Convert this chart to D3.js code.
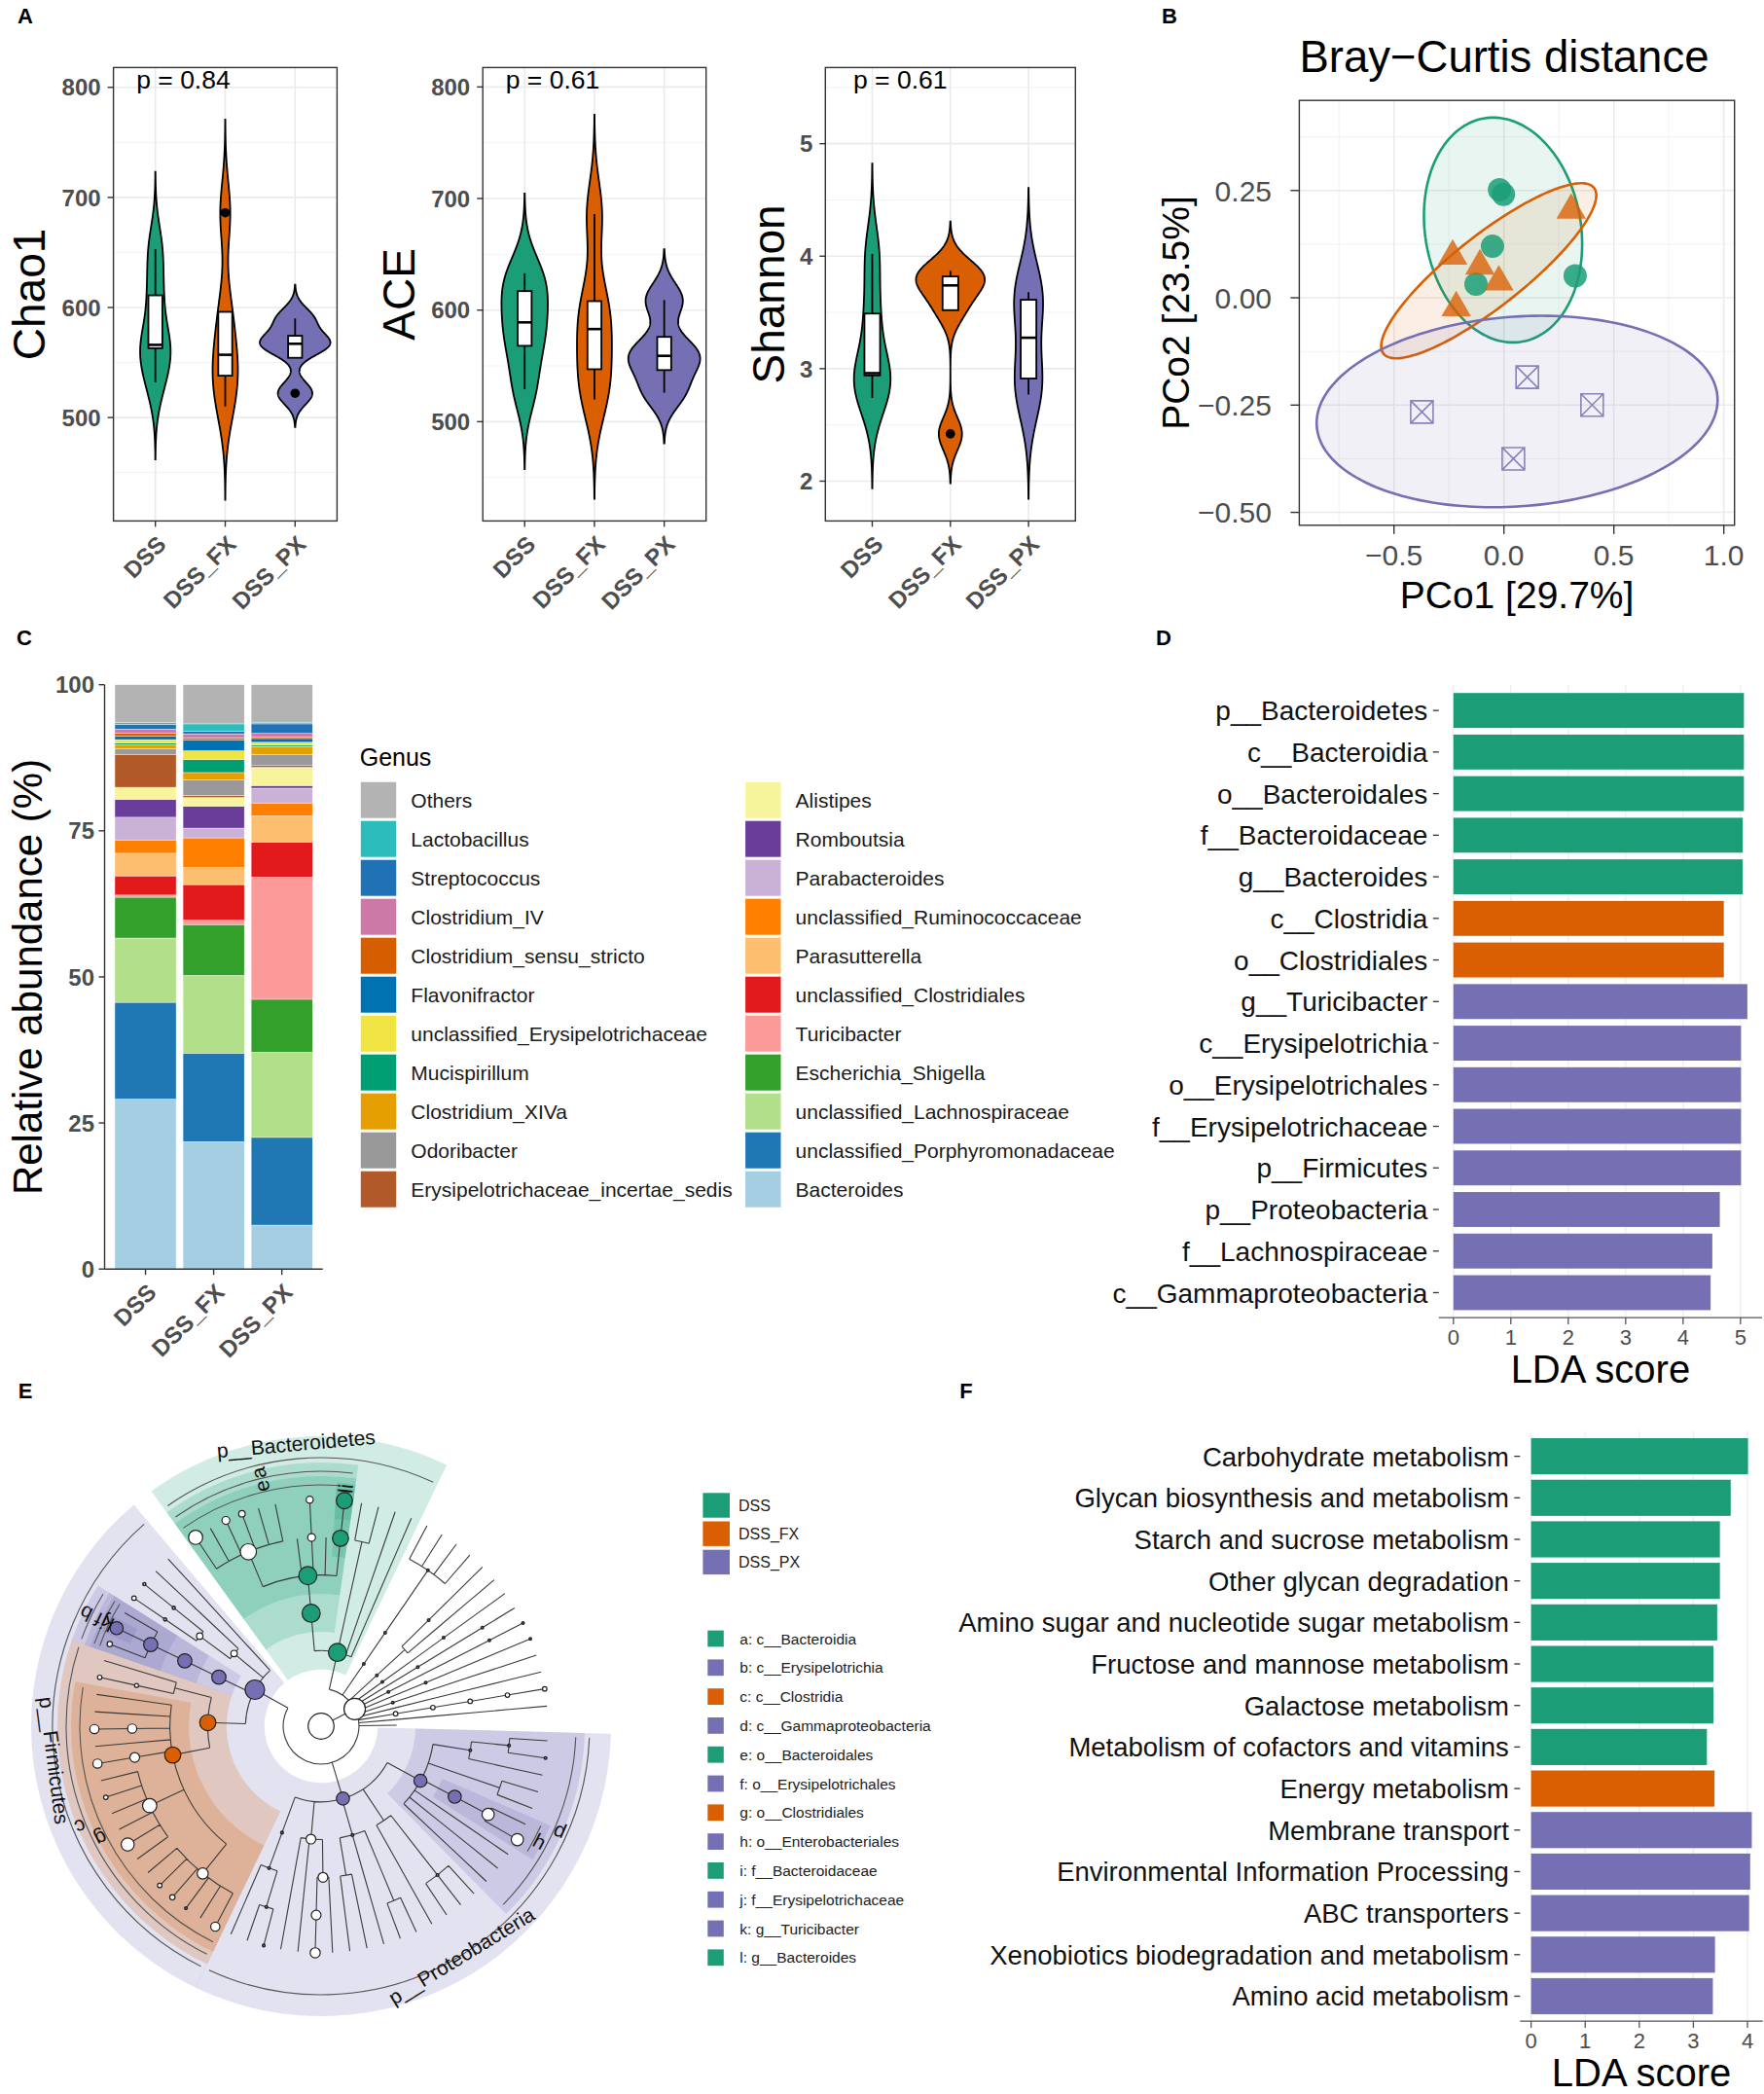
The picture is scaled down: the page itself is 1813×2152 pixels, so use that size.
<!DOCTYPE html>
<html>
<head>
<meta charset="utf-8">
<script src="https://cdn.jsdelivr.net/npm/d3@7"></script>
<style>
    body { margin: 0; background: #fff; }
    svg { display: block; font-family: 'Liberation Sans', Arial, Helvetica, sans-serif; }
</style>
</head>
<body>
<svg id="figure" width="1813" height="2152"></svg>
<script>
const GROUPS = ['DSS', 'DSS_FX', 'DSS_PX']
const GROUP_COLORS = ['#1b9e77', '#d95f02', '#7570b3']

// A: alpha diversity per mouse (read back from the box / violin plots)
const chao1 = [[532, 563, 566, 611, 653], [510, 538, 557, 596, 686], [522, 565, 569, 590]]
const ace = [[529, 568, 589, 617, 633], [520, 547, 583, 608, 686], [526, 553, 565, 609]]
const shannon = [[2.74, 2.94, 2.96, 3.49, 4.02], [2.42, 3.52, 3.74, 3.82, 3.87], [2.77, 2.96, 3.59, 3.68]]
const alphaPValues = ['0.84', '0.61', '0.61']

// B: PCoA on Bray-Curtis
const pcoaX = [[-0.020, -0.002, -0.052, -0.127, 0.324], [0.306, -0.233, -0.109, -0.023, -0.217], [0.106, -0.373, 0.401, 0.043]]
const pcoaY = [[0.252, 0.241, 0.120, 0.032, 0.051], [0.204, 0.097, 0.074, 0.037, -0.023], [-0.185, -0.266, -0.250, -0.375]]
// stat_ellipse outlines: centre plus two conjugate semi-axes, in PCo units
const ellipseCentre = [[-0.004, 0.158], [-0.069, 0.063], [0.060, -0.265]]
const ellipseAxisA = [[-0.045, 0.262], [0.479, 0.193], [0.905, 0.0]]
const ellipseAxisB = [[0.357, 0.0], [0.099, -0.066], [0.110, 0.223]]

// C: genus relative abundance (%), legend order (top of the stack first)
const genera = ['Others', 'Lactobacillus', 'Streptococcus', 'Clostridium_IV', 'Clostridium_sensu_stricto',
    'Flavonifractor', 'unclassified_Erysipelotrichaceae', 'Mucispirillum', 'Clostridium_XIVa', 'Odoribacter',
    'Erysipelotrichaceae_incertae_sedis', 'Alistipes', 'Romboutsia', 'Parabacteroides', 'unclassified_Ruminococcaceae',
    'Parasutterella', 'unclassified_Clostridiales', 'Turicibacter', 'Escherichia_Shigella', 'unclassified_Lachnospiraceae',
    'unclassified_Porphyromonadaceae', 'Bacteroides']
const genusColors = ['#b3b3b3', '#2bbcbc', '#2171b5', '#cc79a7', '#d55e00', '#0072b2', '#f0e442', '#009e73', '#e69f00',
    '#999999', '#b15928', '#f7f59b', '#6a3d9a', '#cab2d6', '#ff7f00', '#fdbf6f', '#e31a1c', '#fb9a99', '#33a02c',
    '#b2df8a', '#1f78b4', '#a6cee3']
const abundanceDSS = [6.5, 0.3, 0.8, 0.7, 0.5, 0.6, 0.6, 0.27, 0.66, 0.97, 5.65, 2.08, 3.05, 3.87, 2.3, 3.86, 3.29, 0.36, 6.99, 11.0, 16.57, 29.08]
const abundanceFX = [6.7, 1.3, 0.4, 0.7, 0.35, 1.85, 1.5, 2.23, 1.27, 2.65, 0.35, 1.5, 3.74, 1.66, 5.1, 2.9, 6.1, 0.74, 8.7, 13.3, 15.16, 21.8]
const abundancePX = [6.4, 0.3, 1.63, 0.57, 0.3, 0.65, 0.5, 0.22, 1.33, 1.94, 0.29, 3.12, 0.45, 2.52, 2.24, 4.46, 6.01, 20.9, 9.07, 14.57, 15.01, 7.52]

// D: LEfSe taxa
const ldaTaxa = ['p__Bacteroidetes', 'c__Bacteroidia', 'o__Bacteroidales', 'f__Bacteroidaceae', 'g__Bacteroides',
    'c__Clostridia', 'o__Clostridiales', 'g__Turicibacter', 'c__Erysipelotrichia', 'o__Erysipelotrichales',
    'f__Erysipelotrichaceae', 'p__Firmicutes', 'p__Proteobacteria', 'f__Lachnospiraceae', 'c__Gammaproteobacteria']
const ldaTaxaScore = [5.06, 5.06, 5.06, 5.04, 5.04, 4.71, 4.71, 5.12, 5.01, 5.01, 5.01, 5.01, 4.64, 4.51, 4.48]
const ldaTaxaGroup = [0, 0, 0, 0, 0, 1, 1, 2, 2, 2, 2, 2, 2, 2, 2]

// F: LEfSe on predicted pathways
const ldaPathways = ['Carbohydrate metabolism', 'Glycan biosynthesis and metabolism', 'Starch and sucrose metabolism',
    'Other glycan degradation', 'Amino sugar and nucleotide sugar metabolism', 'Fructose and mannose metabolism',
    'Galactose metabolism', 'Metabolism of cofactors and vitamins', 'Energy metabolism', 'Membrane transport',
    'Environmental Information Processing', 'ABC transporters', 'Xenobiotics biodegradation and metabolism',
    'Amino acid metabolism']
const ldaPathwayScore = [4.01, 3.69, 3.49, 3.49, 3.44, 3.37, 3.37, 3.25, 3.39, 4.08, 4.05, 4.03, 3.40, 3.36]
const ldaPathwayGroup = [0, 0, 0, 0, 0, 0, 0, 0, 1, 2, 2, 2, 2, 2]

// E: cladogram taxonomy [taxon, parent, relative abundance %] (0 = no node drawn)
const cladeTaxa = [
    ['root', null, 100], ['k__Bacteria', 'root', 11.6],
    ['p__Bacteroidetes', 'k__Bacteria', 2.37], ['c__Bacteroidia', 'p__Bacteroidetes', 2.37], ['o__Bacteroidales', 'c__Bacteroidia', 2.37],
    ['f__Porphyromonadaceae', 'o__Bacteroidales', 0.93], ['g__unclassified_Porphyromonadaceae', 'f__Porphyromonadaceae', 0.36],
    ['g__Barnesiella', 'f__Porphyromonadaceae', 0], ['g__Parabacteroides', 'f__Porphyromonadaceae', 0.017],
    ['g__Odoribacter', 'f__Porphyromonadaceae', 0.009], ['g__Coprobacter', 'f__Porphyromonadaceae', 0],
    ['g__Tannerella', 'f__Porphyromonadaceae', 0], ['f__Prevotellaceae', 'o__Bacteroidales', 0],
    ['f__Rikenellaceae', 'o__Bacteroidales', 0.017], ['g__Alistipes', 'f__Rikenellaceae', 0.012],
    ['f__S24_7', 'o__Bacteroidales', 0], ['f__Bacteroidaceae', 'o__Bacteroidales', 0.93], ['g__Bacteroides', 'f__Bacteroidaceae', 0.93],
    ['c__Flavobacteriia', 'p__Bacteroidetes', 0], ['o__Flavobacteriales', 'c__Flavobacteriia', 0],
    ['f__Flavobacteriaceae', 'o__Flavobacteriales', 0], ['g__Flavobacterium', 'f__Flavobacteriaceae', 0],
    ['g__Chryseobacterium', 'f__Flavobacteriaceae', 0], ['c__Sphingobacteriia', 'p__Bacteroidetes', 0],
    ['o__Sphingobacteriales', 'c__Sphingobacteriia', 0], ['f__Sphingobacteriaceae', 'o__Sphingobacteriales', 0],
    ['g__Pedobacter', 'f__Sphingobacteriaceae', 0], ['c__Cytophagia', 'p__Bacteroidetes', 0],
    ['o__Cytophagales', 'c__Cytophagia', 0], ['f__Cytophagaceae', 'o__Cytophagales', 0], ['g__Hymenobacter', 'f__Cytophagaceae', 0],

    ['p__Actinobacteria', 'k__Bacteria', 0.0012], ['c__Actinobacteria', 'p__Actinobacteria', 0.0012],
    ['o__Coriobacteriales', 'c__Actinobacteria', 0], ['f__Coriobacteriaceae', 'o__Coriobacteriales', 0.0012],
    ['g__Enterorhabdus', 'f__Coriobacteriaceae', 0], ['g__Olsenella', 'f__Coriobacteriaceae', 0],
    ['g__Adlercreutzia', 'f__Coriobacteriaceae', 0], ['g__Gordonibacter', 'f__Coriobacteriaceae', 0],
    ['p__Tenericutes', 'k__Bacteria', 0.0012], ['c__Mollicutes', 'p__Tenericutes', 0],
    ['o__Anaeroplasmatales', 'c__Mollicutes', 0.0012], ['f__Anaeroplasmataceae', 'o__Anaeroplasmatales', 0],
    ['g__Anaeroplasma', 'f__Anaeroplasmataceae', 0], ['o__Mycoplasmatales', 'c__Mollicutes', 0],
    ['f__Mycoplasmataceae', 'o__Mycoplasmatales', 0], ['g__Mycoplasma', 'f__Mycoplasmataceae', 0],
    ['p__Verrucomicrobia', 'k__Bacteria', 0.0012], ['c__Verrucomicrobiae', 'p__Verrucomicrobia', 0],
    ['o__Verrucomicrobiales', 'c__Verrucomicrobiae', 0.0012], ['f__Verrucomicrobiaceae', 'o__Verrucomicrobiales', 0],
    ['g__Akkermansia', 'f__Verrucomicrobiaceae', 0],
    ['p__Cyanobacteria', 'k__Bacteria', 0], ['c__Chloroplast', 'p__Cyanobacteria', 0.0012],
    ['o__Streptophyta', 'c__Chloroplast', 0], ['f__Streptophyta', 'o__Streptophyta', 0.0012], ['g__Streptophyta', 'f__Streptophyta', 0],
    ['p__Saccharibacteria', 'k__Bacteria', 0.0012], ['c__Saccharibacteria', 'p__Saccharibacteria', 0],
    ['o__Saccharibacteria', 'c__Saccharibacteria', 0], ['f__Saccharibacteria', 'o__Saccharibacteria', 0.0012],
    ['g__Saccharibacteria_genera_incertae_sedis', 'f__Saccharibacteria', 0.0012],
    ['p__Fusobacteria', 'k__Bacteria', 0], ['c__Fusobacteriia', 'p__Fusobacteria', 0.0012],
    ['o__Fusobacteriales', 'c__Fusobacteriia', 0], ['f__Fusobacteriaceae', 'o__Fusobacteriales', 0],
    ['g__Fusobacterium', 'f__Fusobacteriaceae', 0.0012],
    ['p__Spirochaetes', 'k__Bacteria', 0.0012], ['c__Spirochaetia', 'p__Spirochaetes', 0],
    ['o__Spirochaetales', 'c__Spirochaetia', 0], ['f__Spirochaetaceae', 'o__Spirochaetales', 0], ['g__Treponema', 'f__Spirochaetaceae', 0],
    ['p__Acidobacteria', 'k__Bacteria', 0], ['c__Acidobacteria_Gp6', 'p__Acidobacteria', 0],
    ['o__Gp6', 'c__Acidobacteria_Gp6', 0], ['f__Gp6', 'o__Gp6', 0], ['g__Gp6', 'f__Gp6', 0],
    ['p__Deferribacteres', 'k__Bacteria', 0.0034], ['c__Deferribacteres', 'p__Deferribacteres', 0.0034],
    ['o__Deferribacterales', 'c__Deferribacteres', 0.0034], ['f__Deferribacteraceae', 'o__Deferribacterales', 0.0034],
    ['g__Mucispirillum', 'f__Deferribacteraceae', 0.0034],
    ['p__Chloroflexi', 'k__Bacteria', 0], ['c__Anaerolineae', 'p__Chloroflexi', 0],
    ['o__Anaerolineales', 'c__Anaerolineae', 0], ['f__Anaerolineaceae', 'o__Anaerolineales', 0], ['g__Longilinea', 'f__Anaerolineaceae', 0],
    ['p__Planctomycetes', 'k__Bacteria', 0],

    ['p__Proteobacteria', 'k__Bacteria', 0.21], ['c__Gammaproteobacteria', 'p__Proteobacteria', 0.21],
    ['o__Pseudomonadales', 'c__Gammaproteobacteria', 0.0013], ['f__Moraxellaceae', 'o__Pseudomonadales', 0.0013],
    ['g__Acinetobacter', 'f__Moraxellaceae', 0], ['g__Psychrobacter', 'f__Moraxellaceae', 0.0013],
    ['f__Pseudomonadaceae', 'o__Pseudomonadales', 0], ['g__Pseudomonas', 'f__Pseudomonadaceae', 0],
    ['o__Pasteurellales', 'c__Gammaproteobacteria', 0], ['f__Pasteurellaceae', 'o__Pasteurellales', 0],
    ['g__Haemophilus', 'f__Pasteurellaceae', 0], ['g__Aggregatibacter', 'f__Pasteurellaceae', 0],
    ['o__Enterobacteriales', 'c__Gammaproteobacteria', 0.21], ['f__Enterobacteriaceae', 'o__Enterobacteriales', 0.14],
    ['g__unclassified_Enterobacteriaceae', 'f__Enterobacteriaceae', 0], ['g__Escherichia_Shigella', 'f__Enterobacteriaceae', 0.14],
    ['o__Xanthomonadales', 'c__Gammaproteobacteria', 0], ['f__Xanthomonadaceae', 'o__Xanthomonadales', 0],
    ['g__Stenotrophomonas', 'f__Xanthomonadaceae', 0], ['o__Aeromonadales', 'c__Gammaproteobacteria', 0],
    ['f__Succinivibrionaceae', 'o__Aeromonadales', 0], ['g__Anaerobiospirillum', 'f__Succinivibrionaceae', 0],
    ['o__Vibrionales', 'c__Gammaproteobacteria', 0], ['f__Vibrionaceae', 'o__Vibrionales', 0], ['g__Vibrio', 'f__Vibrionaceae', 0],
    ['c__Deltaproteobacteria', 'p__Proteobacteria', 0], ['o__Desulfovibrionales', 'c__Deltaproteobacteria', 0],
    ['f__Desulfovibrionaceae', 'o__Desulfovibrionales', 0.0013], ['g__Desulfovibrio', 'f__Desulfovibrionaceae', 0],
    ['g__Bilophila', 'f__Desulfovibrionaceae', 0], ['g__Mailhella', 'f__Desulfovibrionaceae', 0],
    ['o__Desulfuromonadales', 'c__Deltaproteobacteria', 0], ['f__Geobacteraceae', 'o__Desulfuromonadales', 0],
    ['g__Geobacter', 'f__Geobacteraceae', 0],
    ['c__Alphaproteobacteria', 'p__Proteobacteria', 0.0013], ['o__Rhodospirillales', 'c__Alphaproteobacteria', 0],
    ['f__Rhodospirillaceae', 'o__Rhodospirillales', 0], ['g__Thalassospira', 'f__Rhodospirillaceae', 0],
    ['g__Azospirillum', 'f__Rhodospirillaceae', 0], ['o__Sphingomonadales', 'c__Alphaproteobacteria', 0],
    ['f__Sphingomonadaceae', 'o__Sphingomonadales', 0], ['g__Sphingomonas', 'f__Sphingomonadaceae', 0],
    ['o__Rhizobiales', 'c__Alphaproteobacteria', 0], ['f__Bradyrhizobiaceae', 'o__Rhizobiales', 0],
    ['g__Bradyrhizobium', 'f__Bradyrhizobiaceae', 0], ['f__Methylobacteriaceae', 'o__Rhizobiales', 0],
    ['g__Methylobacterium', 'f__Methylobacteriaceae', 0],
    ['c__Betaproteobacteria', 'p__Proteobacteria', 0.042], ['o__Burkholderiales', 'c__Betaproteobacteria', 0.042],
    ['f__Alcaligenaceae', 'o__Burkholderiales', 0], ['g__Alcaligenes', 'f__Alcaligenaceae', 0],
    ['f__Sutterellaceae', 'o__Burkholderiales', 0.042], ['g__Parasutterella', 'f__Sutterellaceae', 0.05],
    ['o__Neisseriales', 'c__Betaproteobacteria', 0], ['f__Neisseriaceae', 'o__Neisseriales', 0], ['g__Neisseria', 'f__Neisseriaceae', 0],
    ['o__Rhodocyclales', 'c__Betaproteobacteria', 0], ['f__Rhodocyclaceae', 'o__Rhodocyclales', 0], ['g__Thauera', 'f__Rhodocyclaceae', 0],
    ['c__Epsilonproteobacteria', 'p__Proteobacteria', 0.0013], ['o__Campylobacterales', 'c__Epsilonproteobacteria', 0.0013],
    ['f__Helicobacteraceae', 'o__Campylobacterales', 0.0013], ['g__Helicobacter', 'f__Helicobacteraceae', 0.0013],
    ['g__Wolinella', 'f__Helicobacteraceae', 0], ['f__Campylobacteraceae', 'o__Campylobacterales', 0],
    ['g__Campylobacter', 'f__Campylobacteraceae', 0],

    ['p__Firmicutes', 'k__Bacteria', 4.56], ['c__Clostridia', 'p__Firmicutes', 0.93], ['o__Clostridiales', 'c__Clostridia', 0.93],
    ['f__Ruminococcaceae', 'o__Clostridiales', 0.081], ['g__Oscillibacter', 'f__Ruminococcaceae', 0.032],
    ['g__Anaerotruncus', 'f__Ruminococcaceae', 0], ['g__Butyricicoccus', 'f__Ruminococcaceae', 0.0013],
    ['g__Ruminococcus', 'f__Ruminococcaceae', 0.0049], ['g__Flavonifractor', 'f__Ruminococcaceae', 0.0034],
    ['g__Intestinimonas', 'f__Ruminococcaceae', 0],
    ['f__Lachnospiraceae', 'o__Clostridiales', 0.36], ['g__Roseburia', 'f__Lachnospiraceae', 0],
    ['g__unclassified_Lachnospiraceae', 'f__Lachnospiraceae', 0.21], ['g__Clostridium_XIVa', 'f__Lachnospiraceae', 0],
    ['g__Blautia', 'f__Lachnospiraceae', 0], ['g__Dorea', 'f__Lachnospiraceae', 0.0034], ['g__Coprococcus', 'f__Lachnospiraceae', 0],
    ['f__Peptostreptococcaceae', 'o__Clostridiales', 0.042], ['g__Romboutsia', 'f__Peptostreptococcaceae', 0.032],
    ['f__Clostridiaceae_1', 'o__Clostridiales', 0], ['g__Clostridium_sensu_stricto', 'f__Clostridiaceae_1', 0],
    ['f__unclassified_Clostridiales', 'o__Clostridiales', 0.032], ['g__unclassified_Clostridiales', 'f__unclassified_Clostridiales', 0.032],
    ['f__Eubacteriaceae', 'o__Clostridiales', 0], ['g__Eubacterium', 'f__Eubacteriaceae', 0],
    ['f__Clostridiales_Incertae_Sedis_XIII', 'o__Clostridiales', 0], ['g__Anaerovorax', 'f__Clostridiales_Incertae_Sedis_XIII', 0],
    ['o__Thermoanaerobacterales', 'c__Clostridia', 0], ['f__Thermoanaerobacteraceae', 'o__Thermoanaerobacterales', 0.0026],
    ['g__Gelria', 'f__Thermoanaerobacteraceae', 0.0034], ['f__Syntrophomonadaceae', 'o__Thermoanaerobacterales', 0],
    ['g__Syntrophomonas', 'f__Syntrophomonadaceae', 0],
    ['c__Erysipelotrichia', 'p__Firmicutes', 0.36], ['o__Erysipelotrichales', 'c__Erysipelotrichia', 0.36],
    ['f__Erysipelotrichaceae', 'o__Erysipelotrichales', 0.36], ['g__unclassified_Erysipelotrichaceae', 'f__Erysipelotrichaceae', 0.0049],
    ['g__Turicibacter', 'f__Erysipelotrichaceae', 0.21], ['g__Erysipelotrichaceae_incertae_sedis', 'f__Erysipelotrichaceae', 0],
    ['c__Bacilli', 'p__Firmicutes', 0.0086], ['o__Lactobacillales', 'c__Bacilli', 0.0086],
    ['f__Lactobacillaceae', 'o__Lactobacillales', 0.0016], ['g__Lactobacillus', 'f__Lactobacillaceae', 0.0034],
    ['f__Streptococcaceae', 'o__Lactobacillales', 0.0016], ['g__Streptococcus', 'f__Streptococcaceae', 0.0016],
    ['o__Bacillales', 'c__Bacilli', 0], ['f__Staphylococcaceae', 'o__Bacillales', 0], ['g__Staphylococcus', 'f__Staphylococcaceae', 0],
    ['c__Negativicutes', 'p__Firmicutes', 0], ['o__Selenomonadales', 'c__Negativicutes', 0],
    ['f__Veillonellaceae', 'o__Selenomonadales', 0], ['g__Veillonella', 'f__Veillonellaceae', 0]
]
const cladePhyla = ['p__Bacteroidetes', 'p__Firmicutes', 'p__Proteobacteria']
const cladePhylaGroup = [0, 2, 2]
const cladeMarkers = ['c__Bacteroidia', 'c__Erysipelotrichia', 'c__Clostridia', 'c__Gammaproteobacteria', 'o__Bacteroidales',
    'o__Erysipelotrichales', 'o__Clostridiales', 'o__Enterobacteriales', 'f__Bacteroidaceae', 'f__Erysipelotrichaceae',
    'g__Turicibacter', 'g__Bacteroides']
const cladeMarkerGroup = [0, 2, 1, 2, 0, 2, 1, 2, 0, 2, 2, 0]
const cladeMarkerLetters = ['a', 'b', 'c', 'd', 'e', 'f', 'g', 'h', 'i', 'j', 'k', 'l']

const svg = d3.select('#figure')
const TICK_GREY = '#4d4d4d'
const AXIS_GREY = '#333333'

const letters = [['A', 26, 24], ['B', 1202, 24], ['C', 25, 663], ['D', 1196, 663], ['E', 26, 1437], ['F', 993, 1437]]
svg.append('g').selectAll('text').data(letters).join('text')
    .attr('x', d => d[1]).attr('y', d => d[2])
    .attr('text-anchor', 'middle').attr('font-weight', 'bold').attr('font-size', 22)
    .text(d => d[0])

// ---------------- A: violins ----------------
const A_TOP = 69.4, A_BOTTOM = 535.4
const alphaPanels = [
    {title: 'Chao1', values: chao1, left: 116.6, right: 346.4, domain: [406, 818], ticks: [500, 600, 700, 800], titleX: 46, maxWidth: 1.01},
    {title: 'ACE', values: ace, left: 496.2, right: 725.7, domain: [411, 817.4], ticks: [500, 600, 700, 800], titleX: 426, maxWidth: 1.03},
    {title: 'Shannon', values: shannon, left: 848.3, right: 1105.3, domain: [1.646, 5.677], ticks: [2, 3, 4, 5], titleX: 806, maxWidth: 0.88}
]

function violinStats(values) {
    const v = values.slice().sort(d3.ascending)
    const q1 = d3.quantileSorted(v, 0.25), med = d3.quantileSorted(v, 0.5), q3 = d3.quantileSorted(v, 0.75)
    const iqr = q3 - q1
    const bw = 0.9 * Math.min(d3.deviation(v), iqr / 1.34) * Math.pow(v.length, -0.2)
    const lo = v[0] - 3 * bw, hi = v[v.length - 1] + 3 * bw
    const density = d3.range(512).map(i => {
        const y = lo + (hi - lo) * i / 511
        return [y, d3.mean(v, s => Math.exp(-0.5 * ((y - s) / bw) ** 2)) / (bw * Math.sqrt(2 * Math.PI))]
    })
    const inside = v.filter(s => s >= q1 - 1.5 * iqr && s <= q3 + 1.5 * iqr)
    return {q1, med, q3, wLo: d3.min(inside), wHi: d3.max(inside), out: v.filter(s => !inside.includes(s)), density}
}

alphaPanels.forEach((p, pi) => {
    const g = svg.append('g')
    const x = d3.scalePoint().domain(GROUPS).range([p.left, p.right]).padding(0.6)
    const y = d3.scaleLinear().domain(p.domain).range([A_BOTTOM, A_TOP])
    const step = x.step()
    const tickStep = p.ticks[1] - p.ticks[0]
    const minor = d3.range(p.ticks[0] - tickStep / 2, p.domain[1], tickStep).filter(v => v > p.domain[0])

    g.selectAll('line.minor').data(minor).join('line')
        .attr('x1', p.left).attr('x2', p.right).attr('y1', d => y(d)).attr('y2', d => y(d))
        .attr('stroke', '#f2f2f2').attr('stroke-width', 1)
    g.selectAll('line.major').data(p.ticks).join('line')
        .attr('x1', p.left).attr('x2', p.right).attr('y1', d => y(d)).attr('y2', d => y(d))
        .attr('stroke', '#ebebeb').attr('stroke-width', 1.6)
    g.selectAll('line.vgrid').data(GROUPS).join('line')
        .attr('x1', d => x(d)).attr('x2', d => x(d)).attr('y1', A_TOP).attr('y2', A_BOTTOM)
        .attr('stroke', '#ebebeb').attr('stroke-width', 1.6)

    const stats = p.values.map(violinStats)
    const maxDens = d3.max(stats, s => d3.max(s.density, d => d[1]))
    const halfW = p.maxWidth * step / 2

    stats.forEach((s, gi) => {
        const xc = x(GROUPS[gi])
        const area = d3.area()
            .x0(d => xc - halfW * d[1] / maxDens)
            .x1(d => xc + halfW * d[1] / maxDens)
            .y(d => y(d[0]))
        g.append('path').attr('d', area(s.density))
            .attr('fill', GROUP_COLORS[gi]).attr('stroke', '#000').attr('stroke-width', 1.8)

        const bw = 0.2 * step
        g.append('line').attr('x1', xc).attr('x2', xc).attr('y1', y(s.q3)).attr('y2', y(s.wHi))
            .attr('stroke', '#000').attr('stroke-width', 1.8)
        g.append('line').attr('x1', xc).attr('x2', xc).attr('y1', y(s.q1)).attr('y2', y(s.wLo))
            .attr('stroke', '#000').attr('stroke-width', 1.8)
        g.append('rect').attr('x', xc - bw / 2).attr('width', bw)
            .attr('y', y(s.q3)).attr('height', y(s.q1) - y(s.q3))
            .attr('fill', '#fff').attr('stroke', '#000').attr('stroke-width', 1.8)
        g.append('line').attr('x1', xc - bw / 2).attr('x2', xc + bw / 2).attr('y1', y(s.med)).attr('y2', y(s.med))
            .attr('stroke', '#000').attr('stroke-width', 2.6)
        g.selectAll(null).data(s.out).join('circle')
            .attr('cx', xc).attr('cy', d => y(d)).attr('r', 4.8).attr('fill', '#000')
    })

    g.append('rect').attr('x', p.left).attr('y', A_TOP).attr('width', p.right - p.left).attr('height', A_BOTTOM - A_TOP)
        .attr('fill', 'none').attr('stroke', AXIS_GREY).attr('stroke-width', 1.4)

    g.selectAll('line.ytick').data(p.ticks).join('line')
        .attr('x1', p.left - 6).attr('x2', p.left).attr('y1', d => y(d)).attr('y2', d => y(d))
        .attr('stroke', AXIS_GREY).attr('stroke-width', 1.4)
    g.selectAll('text.ytick').data(p.ticks).join('text')
        .attr('x', p.left - 13).attr('y', d => y(d)).attr('dy', '0.36em')
        .attr('text-anchor', 'end').attr('font-size', 24).attr('font-weight', 'bold').attr('fill', TICK_GREY)
        .text(d => d)
    g.selectAll('line.xtick').data(GROUPS).join('line')
        .attr('x1', d => x(d)).attr('x2', d => x(d)).attr('y1', A_BOTTOM).attr('y2', A_BOTTOM + 6)
        .attr('stroke', AXIS_GREY).attr('stroke-width', 1.4)
    g.selectAll('text.xtick').data(GROUPS).join('text')
        .attr('x', d => x(d) + 12.5).attr('y', A_BOTTOM + 25.5)
        .attr('transform', d => `rotate(-45, ${x(d) + 12.5}, ${A_BOTTOM + 25.5})`)
        .attr('text-anchor', 'end').attr('font-size', 24).attr('font-weight', 'bold').attr('fill', TICK_GREY)
        .text(d => d)

    g.append('text').attr('x', x('DSS') - 19.5).attr('y', 90.6)
        .attr('font-size', 26.5).text('p = ' + alphaPValues[pi])
    g.append('text').attr('transform', `translate(${p.titleX}, ${(A_TOP + A_BOTTOM) / 2}) rotate(-90)`)
        .attr('text-anchor', 'middle').attr('font-size', 46).text(p.title)
})

// ---------------- B: PCoA ----------------
{
    const B = {left: 1335.4, right: 1782.7, top: 103.2, bottom: 539.8}
    const g = svg.append('g')
    const x = d3.scaleLinear().domain([-0.9305, 1.0487]).range([B.left, B.right])
    const y = d3.scaleLinear().domain([-0.530, 0.4599]).range([B.bottom, B.top])
    const xMajor = [-0.5, 0, 0.5, 1], xMinor = [-0.75, -0.25, 0.25, 0.75]
    const yMajor = [-0.5, -0.25, 0, 0.25], yMinor = [-0.375, -0.125, 0.125, 0.375]

    g.selectAll('line.xm').data(xMinor).join('line').attr('x1', d => x(d)).attr('x2', d => x(d))
        .attr('y1', B.top).attr('y2', B.bottom).attr('stroke', '#f2f2f2').attr('stroke-width', 1)
    g.selectAll('line.ym').data(yMinor).join('line').attr('y1', d => y(d)).attr('y2', d => y(d))
        .attr('x1', B.left).attr('x2', B.right).attr('stroke', '#f2f2f2').attr('stroke-width', 1)
    g.selectAll('line.xM').data(xMajor).join('line').attr('x1', d => x(d)).attr('x2', d => x(d))
        .attr('y1', B.top).attr('y2', B.bottom).attr('stroke', '#ebebeb').attr('stroke-width', 1.6)
    g.selectAll('line.yM').data(yMajor).join('line').attr('y1', d => y(d)).attr('y2', d => y(d))
        .attr('x1', B.left).attr('x2', B.right).attr('stroke', '#ebebeb').attr('stroke-width', 1.6)

    const ellipseLine = d3.line().curve(d3.curveLinearClosed)
    GROUPS.forEach((grp, gi) => {
        const [c0, c1] = ellipseCentre[gi], [a0, a1] = ellipseAxisA[gi], [b0, b1] = ellipseAxisB[gi]
        const pts = d3.range(0, 2 * Math.PI, Math.PI / 90).map(t =>
            [x(c0 + a0 * Math.cos(t) + b0 * Math.sin(t)), y(c1 + a1 * Math.cos(t) + b1 * Math.sin(t))])
        g.append('path').attr('d', ellipseLine(pts))
            .attr('fill', GROUP_COLORS[gi]).attr('fill-opacity', 0.1)
            .attr('stroke', GROUP_COLORS[gi]).attr('stroke-width', 2.6)
    })

    const pts = pcoaX.flatMap((xs, gi) => xs.map((v, i) => ({x: v, y: pcoaY[gi][i], g: gi})))
    pts.filter(p => p.g === 0).forEach(p => g.append('circle').attr('cx', x(p.x)).attr('cy', y(p.y)).attr('r', 12)
        .attr('fill', GROUP_COLORS[0]).attr('fill-opacity', 0.85))
    const tri = d3.symbol(d3.symbolTriangle, 400)
    pts.filter(p => p.g === 1).forEach(p => g.append('path').attr('d', tri())
        .attr('transform', `translate(${x(p.x)}, ${y(p.y)})`)
        .attr('fill', GROUP_COLORS[1]).attr('fill-opacity', 0.78))
    pts.filter(p => p.g === 2).forEach(p => {
        const s = 11.5, cx = x(p.x), cy = y(p.y)
        g.append('path')
            .attr('d', `M${cx - s},${cy - s}h${2 * s}v${2 * s}h${-2 * s}Z M${cx - s},${cy - s}L${cx + s},${cy + s} M${cx + s},${cy - s}L${cx - s},${cy + s}`)
            .attr('fill', 'none').attr('stroke', GROUP_COLORS[2]).attr('stroke-width', 1.6).attr('stroke-opacity', 0.85)
    })

    g.append('rect').attr('x', B.left).attr('y', B.top).attr('width', B.right - B.left).attr('height', B.bottom - B.top)
        .attr('fill', 'none').attr('stroke', AXIS_GREY).attr('stroke-width', 1.4)
    g.selectAll('line.xt').data(xMajor).join('line').attr('x1', d => x(d)).attr('x2', d => x(d))
        .attr('y1', B.bottom).attr('y2', B.bottom + 9).attr('stroke', AXIS_GREY).attr('stroke-width', 1.4)
    g.selectAll('line.yt').data(yMajor).join('line').attr('y1', d => y(d)).attr('y2', d => y(d))
        .attr('x1', B.left - 9).attr('x2', B.left).attr('stroke', AXIS_GREY).attr('stroke-width', 1.4)
    const fmtX = d => d3.format('.1f')(d).replace('-', '\u2212')
    const fmtY = d => d3.format('.2f')(d).replace('-', '\u2212')
    g.selectAll('text.xt').data(xMajor).join('text').attr('x', d => x(d)).attr('y', 581)
        .attr('text-anchor', 'middle').attr('font-size', 30).attr('fill', TICK_GREY).text(fmtX)
    g.selectAll('text.yt').data(yMajor).join('text').attr('x', 1307).attr('y', d => y(d)).attr('dy', '0.36em')
        .attr('text-anchor', 'end').attr('font-size', 30).attr('fill', TICK_GREY).text(fmtY)
    g.append('text').attr('x', (B.left + B.right) / 2).attr('y', 625).attr('text-anchor', 'middle')
        .attr('font-size', 39).text('PCo1 [29.7%]')
    g.append('text').attr('transform', `translate(1222, ${(B.top + B.bottom) / 2}) rotate(-90)`)
        .attr('text-anchor', 'middle').attr('font-size', 39).text('PCo2 [23.5%]')
    g.append('text').attr('x', B.left).attr('y', 74).attr('font-size', 45.5).text('Bray\u2212Curtis distance')
}

// ---------------- C: stacked genus bars ----------------
{
    const C = {left: 107.5, right: 331.7, top: 703.7, bottom: 1304.2}
    const g = svg.append('g')
    const x = d3.scalePoint().domain(GROUPS).range([C.left, C.right]).padding(0.6)
    const y = d3.scaleLinear().domain([0, 100]).range([C.bottom, C.top])
    const barW = 0.9 * x.step()
    const samples = [abundanceDSS, abundanceFX, abundancePX]
    const rows = GROUPS.map((grp, gi) => {
        const r = {group: grp}
        genera.forEach((gen, k) => { r[gen] = samples[gi][k] })
        return r
    })
    const colorOf = d3.scaleOrdinal().domain(genera).range(genusColors)
    const series = d3.stack().keys(genera.slice().reverse())(rows)
    g.selectAll('g.layer').data(series).join('g')
        .attr('fill', s => colorOf(s.key))
        .selectAll('rect').data(s => s).join('rect')
        .attr('x', d => x(d.data.group) - barW / 2).attr('width', barW)
        .attr('y', d => y(d[1])).attr('height', d => y(d[0]) - y(d[1]))
        .attr('stroke', '#fff').attr('stroke-width', 0.4)

    g.append('line').attr('x1', C.left).attr('x2', C.left).attr('y1', C.top).attr('y2', C.bottom)
        .attr('stroke', AXIS_GREY).attr('stroke-width', 1.4)
    g.append('line').attr('x1', C.left).attr('x2', C.right).attr('y1', C.bottom).attr('y2', C.bottom)
        .attr('stroke', AXIS_GREY).attr('stroke-width', 1.4)
    const yt = [0, 25, 50, 75, 100]
    g.selectAll('line.yt').data(yt).join('line').attr('x1', C.left - 6).attr('x2', C.left)
        .attr('y1', d => y(d)).attr('y2', d => y(d)).attr('stroke', AXIS_GREY).attr('stroke-width', 1.4)
    g.selectAll('text.yt').data(yt).join('text').attr('x', 97).attr('y', d => y(d)).attr('dy', '0.36em')
        .attr('text-anchor', 'end').attr('font-size', 24).attr('font-weight', 'bold').attr('fill', TICK_GREY).text(d => d)
    g.selectAll('line.xt').data(GROUPS).join('line').attr('x1', d => x(d)).attr('x2', d => x(d))
        .attr('y1', C.bottom).attr('y2', C.bottom + 6).attr('stroke', AXIS_GREY).attr('stroke-width', 1.4)
    g.selectAll('text.xt').data(GROUPS).join('text')
        .attr('x', d => x(d) + 12.5).attr('y', C.bottom + 25.5)
        .attr('transform', d => `rotate(-45, ${x(d) + 12.5}, ${C.bottom + 25.5})`)
        .attr('text-anchor', 'end').attr('font-size', 24).attr('font-weight', 'bold').attr('fill', TICK_GREY)
        .text(d => d)
    g.append('text').attr('transform', `translate(43, ${(C.top + C.bottom) / 2}) rotate(-90)`)
        .attr('text-anchor', 'middle').attr('font-size', 42).text('Relative abundance (%)')

    // legend, two columns of eleven
    g.append('text').attr('x', 369.7).attr('y', 787.3).attr('font-size', 25).text('Genus')
    const leg = g.selectAll('g.leg').data(genera).join('g')
        .attr('transform', (d, i) => `translate(${i < 11 ? 370.8 : 766.1}, ${803.7 + (i % 11) * 40})`)
    leg.append('rect').attr('width', 36.4).attr('height', 37).attr('fill', d => colorOf(d))
    leg.append('text').attr('x', 51.5).attr('y', 18.5).attr('dy', '0.36em').attr('font-size', 21)
        .attr('fill', '#1a1a1a').text(d => d)
}

// ---------------- D / F: LDA bars ----------------
function drawLda(cfg) {
    const g = svg.append('g')
    const x = d3.scaleLinear().domain(cfg.xDomain).range([cfg.left, cfg.right])
    const y = d3.scalePoint().domain(cfg.labels).range([cfg.top, cfg.bottom]).padding(0.6)
    const h = cfg.barFrac * y.step()
    g.selectAll('line.grid').data(cfg.ticks).join('line').attr('x1', d => x(d)).attr('x2', d => x(d))
        .attr('y1', cfg.top).attr('y2', cfg.bottom).attr('stroke', '#ececec').attr('stroke-width', 1.2)
    g.selectAll('rect').data(cfg.labels).join('rect')
        .attr('x', x(0)).attr('y', d => y(d) - h / 2).attr('height', h)
        .attr('width', (d, i) => x(cfg.scores[i]) - x(0))
        .attr('fill', (d, i) => GROUP_COLORS[cfg.groups[i]])
    g.selectAll('line.yt').data(cfg.labels).join('line').attr('x1', cfg.left - 6).attr('x2', cfg.left)
        .attr('y1', d => y(d)).attr('y2', d => y(d)).attr('stroke', AXIS_GREY).attr('stroke-width', 1.3)
    g.selectAll('text.yl').data(cfg.labels).join('text').attr('x', cfg.left - 11.5).attr('y', d => y(d))
        .attr('dy', '0.36em').attr('text-anchor', 'end').attr('font-size', cfg.labelSize).attr('fill', '#111').text(d => d)
    g.append('line').attr('x1', cfg.left).attr('x2', cfg.right).attr('y1', cfg.bottom).attr('y2', cfg.bottom)
        .attr('stroke', '#555').attr('stroke-width', 1.4)
    g.selectAll('line.xt').data(cfg.ticks).join('line').attr('x1', d => x(d)).attr('x2', d => x(d))
        .attr('y1', cfg.bottom).attr('y2', cfg.bottom + 7).attr('stroke', '#555').attr('stroke-width', 1.3)
    g.selectAll('text.xt').data(cfg.ticks).join('text').attr('x', d => x(d)).attr('y', cfg.bottom + 28)
        .attr('text-anchor', 'middle').attr('font-size', 22).attr('fill', TICK_GREY).text(d => d)
    g.append('text').attr('x', (cfg.left + cfg.right) / 2).attr('y', cfg.bottom + 67)
        .attr('text-anchor', 'middle').attr('font-size', 40).text('LDA score')
}
drawLda({labels: ldaTaxa, scores: ldaTaxaScore, groups: ldaTaxaGroup, left: 1478.8, right: 1811, top: 704.5, bottom: 1354.1,
    xDomain: [-0.254, 5.376], ticks: [0, 1, 2, 3, 4, 5], barFrac: 0.84, labelSize: 28})
drawLda({labels: ldaPathways, scores: ldaPathwayScore, groups: ldaPathwayGroup, left: 1562.3, right: 1811.8, top: 1471, bottom: 2077.1,
    xDomain: [-0.204, 4.284], ticks: [0, 1, 2, 3, 4], barFrac: 0.87, labelSize: 27.5})

// ---------------- E: cladogram ----------------
{
    const CX = 330, CY = 1774, LEAF_START = -35.8
    const WEDGE_OUTER = {2: 298, 3: 271, 4: 257, 5: 251, 6: 245}
    const ARC_R = {2: 276, 3: 262, 4: 248, 5: 242, 6: 237}
    const LABEL_R = {2: 284, 3: 268, 4: 254, 5: 248, 6: 243}
    const g = svg.append('g')
    const levelR = d3.scaleLinear().domain([0, 6]).range([0, 233])
    const nodeR = d3.scaleLog().domain([0.001, 100]).range([1, 13.3]).clamp(true)
    const rad = a => a * Math.PI / 180
    const polar = (r, a) => [CX + r * Math.sin(rad(a)), CY - r * Math.cos(rad(a))]

    const tree = d3.stratify().id(d => d[0]).parentId(d => d[1])(cladeTaxa)
    const nLeaves = tree.leaves().length
    const leafStep = 360 / nLeaves
    d3.cluster().size([leafStep * (nLeaves - 1), 1]).separation(() => 1)(tree)
    tree.eachAfter(n => {
        const lin = LEAF_START + n.x
        if (!n.children) { n.ang = lin; return }
        const s = d3.mean(n.children, c => Math.sin(rad(c.ang)))
        const co = d3.mean(n.children, c => Math.cos(rad(c.ang)))
        let a = Math.atan2(s, co) * 180 / Math.PI
        while (a - lin > 180) a -= 360
        while (lin - a > 180) a += 360
        n.ang = a
    })

    const highlights = cladePhyla.map((t, i) => ({taxon: t, group: cladePhylaGroup[i], letter: null}))
        .concat(cladeMarkers.map((t, i) => ({taxon: t, group: cladeMarkerGroup[i], letter: cladeMarkerLetters[i]})))
    highlights.forEach(h => {
        const node = tree.find(n => n.id === h.taxon)
        h.depth = node.depth
        h.a0 = d3.min(node.leaves(), l => l.ang) - leafStep / 2
        h.a1 = d3.max(node.leaves(), l => l.ang) + leafStep / 2
    })
    highlights.sort((a, b) => a.depth - b.depth)
    const colourOf = new Map(highlights.map(h => [h.taxon, GROUP_COLORS[h.group]]))

    const wedge = d3.arc()
    g.selectAll('path.wedge').data(highlights).join('path')
        .attr('transform', `translate(${CX}, ${CY})`)
        .attr('d', h => wedge({innerRadius: levelR(h.depth - 0.5), outerRadius: WEDGE_OUTER[h.depth],
            startAngle: rad(h.a0), endAngle: rad(h.a1)}))
        .attr('fill', h => GROUP_COLORS[h.group]).attr('fill-opacity', 0.2)

    g.selectAll('path.labelarc').data(highlights).join('path')
        .attr('d', h => {
            const p = d3.path(), r = ARC_R[h.depth]
            p.arc(CX, CY, r, rad(h.a0 + 1 - 90), rad(h.a1 - 1 - 90))
            return p.toString()
        })
        .attr('fill', 'none').attr('stroke', '#555').attr('stroke-width', 1.1)

    // connectors: radial stub from each node to its parent's ring, then an arc along the parent ring
    const links = d3.path()
    tree.descendants().filter(n => n.parent).forEach(n => {
        const [x0, y0] = polar(levelR(n.depth), n.ang), [x1, y1] = polar(levelR(n.depth - 1), n.ang)
        links.moveTo(x0, y0)
        links.lineTo(x1, y1)
    })
    tree.descendants().filter(n => n.children && n.children.length > 1 && n.depth > 0).forEach(n => {
        const a0 = d3.min(n.children, c => c.ang), a1 = d3.max(n.children, c => c.ang), r = levelR(n.depth)
        const [sx, sy] = polar(r, a0)
        links.moveTo(sx, sy)
        links.arc(CX, CY, r, rad(a0 - 90), rad(a1 - 90))
    })
    g.append('path').attr('d', links.toString()).attr('fill', 'none').attr('stroke', '#3a3a3a').attr('stroke-width', 1.1)

    const drawn = tree.descendants().filter(n => n.data[2] > 0)
    g.selectAll('circle').data(drawn).join('circle')
        .attr('cx', n => polar(levelR(n.depth), n.ang)[0]).attr('cy', n => polar(levelR(n.depth), n.ang)[1])
        .attr('r', n => nodeR(n.data[2]))
        .attr('fill', n => colourOf.get(n.id) || '#fff')
        .attr('stroke', '#222').attr('stroke-width', n => nodeR(n.data[2]) < 2 ? 1.6 : 1.2)

    highlights.forEach(h => {
        const mid = (h.a0 + h.a1) / 2
        const [tx, ty] = polar(LABEL_R[h.depth], mid)
        const m = ((mid % 360) + 360) % 360
        const rot = h.letter ? mid - 90 : ((m > 90 && m < 270) ? m - 180 : mid)
        g.append('text').attr('x', tx).attr('y', ty).attr('dy', h.letter ? '0.35em' : '0')
            .attr('transform', `rotate(${rot}, ${tx}, ${ty})`)
            .attr('text-anchor', 'middle').attr('font-size', 21).attr('fill', '#111')
            .text(h.letter || h.taxon)
    })

    // legends
    const gl = g.selectAll('g.grp').data(GROUPS).join('g')
        .attr('transform', (d, i) => `translate(722.4, ${1534.3 + i * 29.2})`)
    gl.append('rect').attr('width', 27.6).attr('height', 25.4).attr('fill', (d, i) => GROUP_COLORS[i])
    gl.append('text').attr('x', 36.6).attr('y', 12.7).attr('dy', '0.36em').attr('font-size', 16).attr('fill', '#222').text(d => d)

    const ml = g.selectAll('g.mk').data(cladeMarkers).join('g')
        .attr('transform', (d, i) => `translate(727.3, ${1684 + i * 29.8})`)
    ml.append('rect').attr('y', -8.4).attr('width', 16.5).attr('height', 16.8).attr('fill', (d, i) => GROUP_COLORS[cladeMarkerGroup[i]])
    ml.append('text').attr('x', 33).attr('dy', '0.36em').attr('font-size', 15.5).attr('fill', '#222')
        .text((d, i) => cladeMarkerLetters[i] + ': ' + d)
}
</script>
</body>
</html>
